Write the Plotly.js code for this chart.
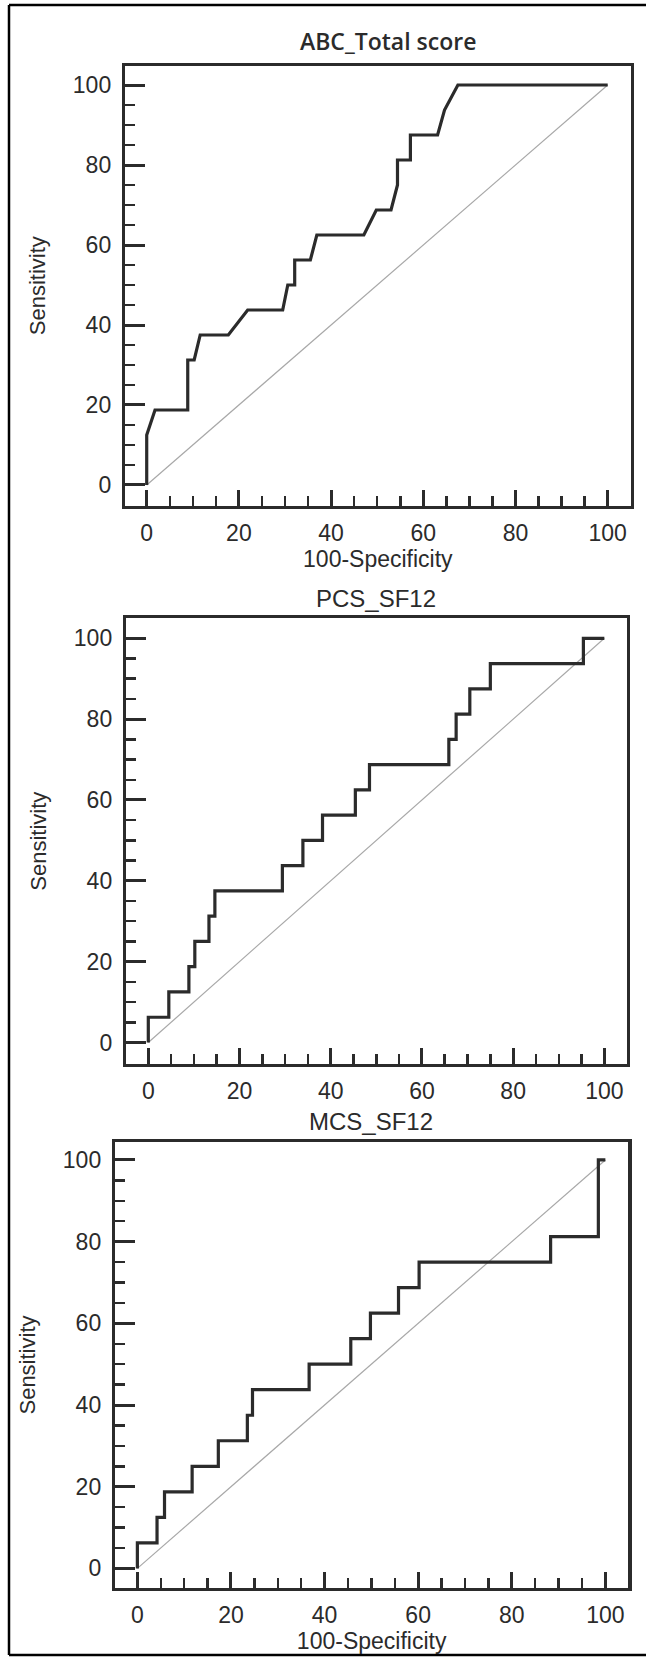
<!DOCTYPE html>
<html><head><meta charset="utf-8">
<script src="https://cdn.plot.ly/plotly-3.0.1.min.js"></script>
<style>html,body{margin:0;padding:0;background:#fff}</style>
</head><body><div id="chart" style="width:646px;height:1658px"></div>
<script>
// ---- data ----
const panelTitles = ["ABC_Total score", "PCS_SF12", "MCS_SF12"];
const xAxisTitle = "100-Specificity";
const yAxisTitle = "Sensitivity";
const majorTicks = [0, 20, 40, 60, 80, 100];
const tickLabels = ["0", "20", "40", "60", "80", "100"];
const minorTicks = [5, 10, 15, 25, 30, 35, 45, 50, 55, 65, 70, 75, 85, 90, 95];
const diagX = [0, 100];
const diagY = [0, 100];

const abcX = [0, 0, 1.8, 8.9, 8.9, 10.3, 11.6, 17.7, 21.9, 29.5, 30.6, 32.1, 32.1, 35.5, 36.9, 47.1, 49.8, 53.0, 54.4, 54.4, 57.2, 57.2, 63.1, 64.6, 67.5, 100];
const abcY = [0, 12.5, 18.75, 18.75, 31.25, 31.25, 37.5, 37.5, 43.75, 43.75, 50, 50, 56.25, 56.25, 62.5, 62.5, 68.75, 68.75, 75, 81.25, 81.25, 87.5, 87.5, 93.75, 100, 100];

const pcsX = [0, 0, 4.5, 4.5, 8.9, 8.9, 10.2, 10.2, 13.3, 13.3, 14.6, 14.6, 29.4, 29.4, 33.9, 33.9, 38.2, 38.2, 45.4, 45.4, 48.5, 48.5, 65.9, 65.9, 67.5, 67.5, 70.5, 70.5, 75.0, 75.0, 95.4, 95.4, 100];
const pcsY = [0, 6.25, 6.25, 12.5, 12.5, 18.75, 18.75, 25, 25, 31.25, 31.25, 37.5, 37.5, 43.75, 43.75, 50, 50, 56.25, 56.25, 62.5, 62.5, 68.75, 68.75, 75, 75, 81.25, 81.25, 87.5, 87.5, 93.75, 93.75, 100, 100];

const mcsX = [0, 0, 4.2, 4.2, 5.8, 5.8, 11.7, 11.7, 17.3, 17.3, 23.5, 23.5, 24.6, 24.6, 36.7, 36.7, 45.6, 45.6, 49.8, 49.8, 55.8, 55.8, 60.2, 60.2, 88.3, 88.3, 98.5, 98.5, 100];
const mcsY = [0, 6.25, 6.25, 12.5, 12.5, 18.75, 18.75, 25, 25, 31.25, 31.25, 37.5, 37.5, 43.75, 43.75, 50, 50, 56.25, 56.25, 62.5, 62.5, 68.75, 68.75, 75, 75, 81.25, 81.25, 100, 100];

// ---- layout helpers ----
const W = 646, H = 1658;
const ink = '#2b2b2b';
const sansFont = '"Liberation Sans", Arial, sans-serif';
const px = v => v / W;
const py = v => 1 - v / H;

function axisBase(extra) {
  return Object.assign({
    showline: true, mirror: true, linecolor: ink, linewidth: 3.2,
    ticks: 'inside', tickwidth: 3, tickcolor: ink,
    tickmode: 'array', tickvals: majorTicks, ticktext: tickLabels,
    minor: { ticks: 'inside', ticklen: 10, tickwidth: 2.5, tickcolor: ink, tickmode: 'array', tickvals: minorTicks, showgrid: false },
    showgrid: false, zeroline: false, fixedrange: true,
    tickfont: { family: sansFont, size: 23, color: ink }
  }, extra);
}

// frame pixel boxes [left, right, top, bottom] and ranges
const frames = [
  { box: [125, 630.7, 65.7, 505.7], xr: [-4.71, 104.99], yr: [-5.18, 104.83] },
  { box: [126, 626.7, 618.3, 1064], xr: [-4.89, 104.9], yr: [-5.32, 104.95] },
  { box: [115, 628.3, 1142, 1588], xr: [-4.78, 104.9], yr: [-4.8, 104.4] }
];
const series = [[abcX, abcY], [pcsX, pcsY], [mcsX, mcsY]];

const data = [];
const layout = {
  width: W, height: H,
  margin: { l: 0, r: 0, t: 0, b: 0 },
  paper_bgcolor: '#ffffff', plot_bgcolor: '#ffffff',
  showlegend: false,
  annotations: [], shapes: []
};

frames.forEach((f, i) => {
  const n = i === 0 ? '' : String(i + 1);
  const xa = 'x' + n, ya = 'y' + n;
  data.push({ x: diagX, y: diagY, xaxis: xa, yaxis: ya, mode: 'lines', line: { color: '#a8a8a8', width: 1.2 }, hoverinfo: 'skip' });
  data.push({ x: series[i][0], y: series[i][1], xaxis: xa, yaxis: ya, mode: 'lines', line: { color: ink, width: 3.2 }, hoverinfo: 'skip' });
  const xaxis = axisBase({
    domain: [px(f.box[0]), px(f.box[1])], range: f.xr, anchor: ya,
    ticklen: 16, ticklabelstandoff: 4
  });
  if (i !== 1) {
    xaxis.title = { text: xAxisTitle, font: { family: sansFont, size: 23, color: ink }, standoff: 2 };
  }
  const yaxis = axisBase({
    domain: [py(f.box[3]), py(f.box[2])], range: f.yr, anchor: xa,
    ticklen: 20, ticklabelstandoff: 6,
    title: { text: yAxisTitle, font: { family: sansFont, size: 22, color: ink }, standoff: 22 }
  });
  layout['xaxis' + n] = xaxis;
  layout['yaxis' + n] = yaxis;
});

// panel titles
layout.annotations.push({ text: panelTitles[0], xref: 'paper', yref: 'paper', x: px(388), y: py(41), xanchor: 'center', yanchor: 'middle', showarrow: false,
  font: { family: '"Open Sans", "Noto Sans", sans-serif', size: 23, weight: 600, color: ink } });
layout.annotations.push({ text: panelTitles[1], xref: 'paper', yref: 'paper', x: px(376), y: py(599), xanchor: 'center', yanchor: 'middle', showarrow: false,
  font: { family: sansFont, size: 24, color: ink } });
layout.annotations.push({ text: panelTitles[2], xref: 'paper', yref: 'paper', x: px(371), y: py(1121), xanchor: 'center', yanchor: 'middle', showarrow: false,
  font: { family: sansFont, size: 24, color: ink } });

// outer border (top, left, bottom)
const borderLine = { color: '#000000', width: 2.5 };
layout.shapes.push({ type: 'line', xref: 'paper', yref: 'paper', x0: px(9), x1: 1, y0: py(5), y1: py(5), line: borderLine });
layout.shapes.push({ type: 'line', xref: 'paper', yref: 'paper', x0: px(9), x1: px(9), y0: py(5), y1: py(1655), line: borderLine });
layout.shapes.push({ type: 'line', xref: 'paper', yref: 'paper', x0: px(9), x1: 1, y0: py(1655), y1: py(1655), line: borderLine });

Plotly.newPlot('chart', data, layout, { staticPlot: true, displayModeBar: false });
</script>
</body></html>
